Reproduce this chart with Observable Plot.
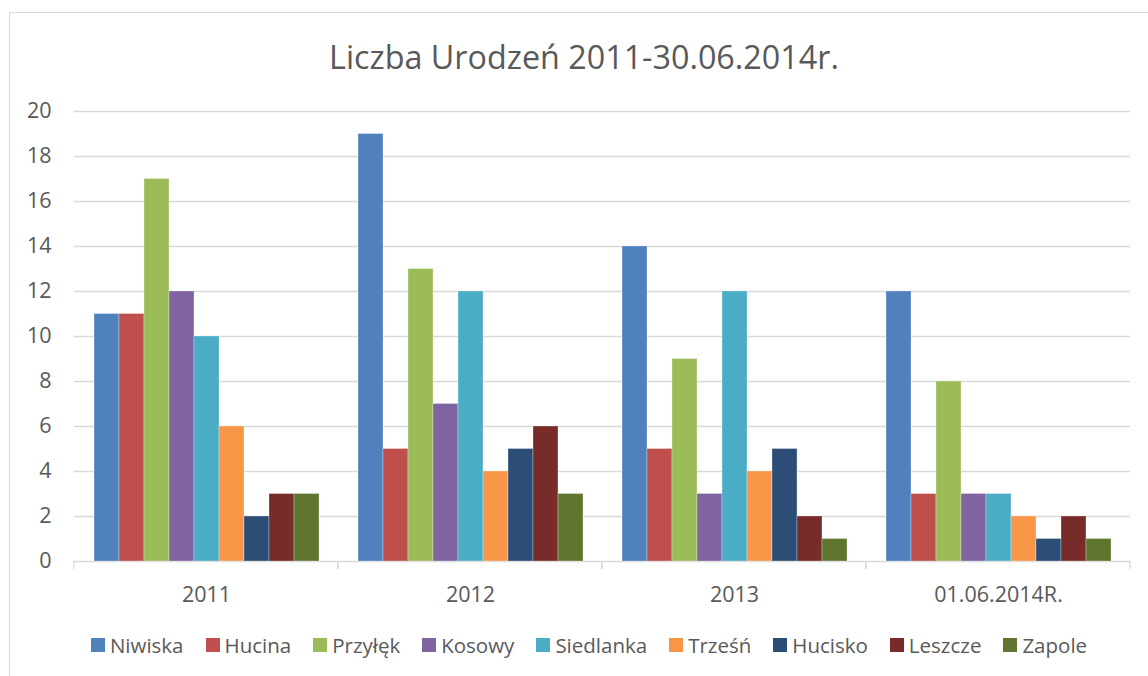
<!DOCTYPE html>
<html><head><meta charset="utf-8">
<script src="https://cdn.jsdelivr.net/npm/d3@7"></script>
<script src="https://cdn.jsdelivr.net/npm/@observablehq/plot@0.6"></script>
<style>
html,body{margin:0;padding:0;background:#fff;overflow:hidden;}
#wrap{position:relative;width:1148px;height:676px;overflow:hidden;font-family:"Open Sans",sans-serif;color:#595959;background:#fff;}
#frame{position:absolute;left:9px;top:12px;width:1200px;height:700px;border:1px solid #d9d9d9;box-sizing:border-box;}
#title{position:absolute;left:0;width:1168px;top:40.5px;text-align:center;font-size:32.3px;line-height:30px;white-space:nowrap;}
#chart{position:absolute;left:0;top:90px;}
#legend{position:absolute;left:0;width:1178px;top:635px;display:flex;justify-content:center;align-items:center;font-size:20.5px;line-height:20px;white-space:nowrap;}
.item{display:flex;align-items:center;}
.item + .item{margin-left:22px;}
.sw{width:14px;height:14px;margin-right:5px;}
</style>
</head><body>
<div id="wrap">
  <div id="frame"></div>
  <div id="title"></div>
  <div id="chart"></div>
  <div id="legend"></div>
</div>
<script>
const titleText = "Liczba Urodzeń 2011-30.06.2014r.";
const groups = ["2011", "2012", "2013", "01.06.2014R."];
const series = ["Niwiska", "Hucina", "Przyłęk", "Kosowy", "Siedlanka", "Trześń", "Hucisko", "Leszcze", "Zapole"];
const colors = ["#4F81BD", "#C0504D", "#9BBB59", "#8064A2", "#4BACC6", "#F79646", "#2C4D75", "#772C2A", "#5F7530"];
const v2011 = [11, 11, 17, 12, 10, 6, 2, 3, 3];
const v2012 = [19, 5, 13, 7, 12, 4, 5, 6, 3];
const v2013 = [14, 5, 9, 3, 12, 4, 5, 2, 1];
const v2014 = [12, 3, 8, 3, 3, 2, 1, 2, 1];
const yTicks = [0, 2, 4, 6, 8, 10, 12, 14, 16, 18, 20];

const valuesByGroup = [v2011, v2012, v2013, v2014];
const data = [];
groups.forEach((g, gi) => series.forEach((s, si) => data.push({group: g, series: s, value: valuesByGroup[gi][si]})));

document.getElementById("title").textContent = titleText;

const tickMarks = (index, scales, values, dims) => {
  const g = d3.create("svg:g");
  const y0 = scales.y(0);
  [dims.marginLeft, dims.width - dims.marginRight].forEach(x =>
    g.append("line").attr("x1", x).attr("x2", x).attr("y1", y0).attr("y2", y0 + 8)
      .attr("stroke", "#d9d9d9").attr("stroke-width", 1.3));
  return g.node();
};

const chart = Plot.plot({
  width: 1148,
  height: 540,
  marginTop: 21,
  marginBottom: 69,
  marginLeft: 73,
  marginRight: 17,
  style: {fontFamily: '"Open Sans", sans-serif', fontSize: "21.5px", color: "#595959", background: "transparent", overflow: "visible"},
  facet: {data, x: "group"},
  fx: {domain: groups, padding: 0, label: null, tickSize: 0, tickPadding: 25},
  x: {domain: series, paddingInner: 0, paddingOuter: 0.77, axis: null},
  y: {domain: [0, 20], ticks: yTicks, tickSize: 0, tickPadding: 23, label: null},
  color: {domain: series, range: colors},
  marks: [
    Plot.ruleY(yTicks, {stroke: "#d9d9d9", strokeWidth: 1.3}),
    Plot.barY(data, {x: "series", y: "value", fill: "series", stroke: "#ffffff", strokeOpacity: 0.3, strokeWidth: 1}),
    tickMarks
  ]
});
document.getElementById("chart").appendChild(chart);

const color = chart.scale("color");
const legend = document.getElementById("legend");
color.domain.forEach((s, i) => {
  const it = document.createElement("div");
  it.className = "item";
  const sw = document.createElement("div");
  sw.className = "sw";
  sw.style.background = color.range[i];
  const t = document.createElement("span");
  t.textContent = s;
  it.appendChild(sw);
  it.appendChild(t);
  legend.appendChild(it);
});
</script>
</body></html>
